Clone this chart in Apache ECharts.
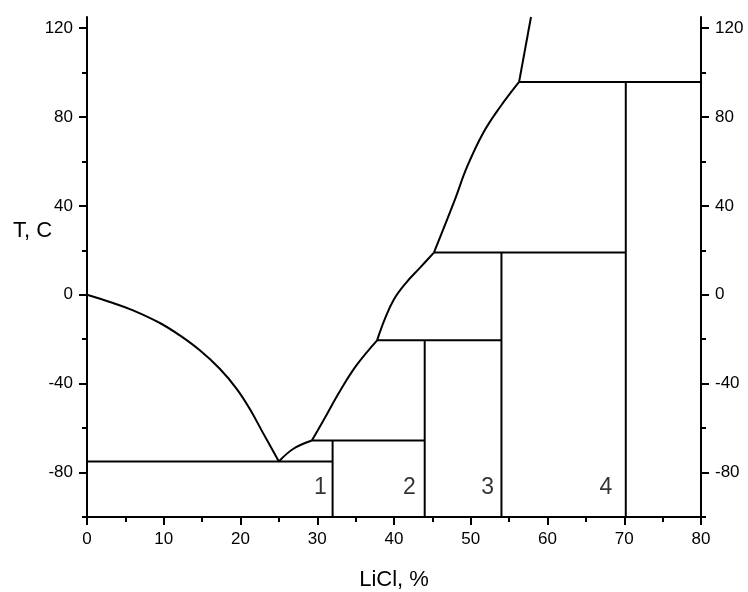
<!DOCTYPE html>
<html>
<head>
<meta charset="utf-8">
<script src="https://cdn.jsdelivr.net/npm/echarts@6/dist/echarts.min.js"></script>
<style>html,body{margin:0;padding:0;background:#fff;}#c{width:748px;height:592px;}</style>
</head>
<body>
<div id="c"></div>
<script>
// ---- data ----
var iceCurve = [[0,0],[3.4,-3.7],[6.0,-7.0],[9.5,-12.7],[12.1,-18.3],[14.7,-25],[17.3,-33.3],[19.5,-42.3],[21.2,-51.3],[23.0,-62.6],[25,-75]];
var pentaCurve = [[25,-75],[26.9,-69.3],[29.3,-65.6]];
var triCurve = [[29.3,-65.6],[30.8,-56.6],[33.0,-43.1],[35.1,-31.8],[37.8,-20.5]];
var diCurve = [[37.8,-20.5],[38.8,-11.0],[40.0,-2.0],[41.6,5.5],[43.4,12.2],[45.2,19]];
var monoCurve = [[45.2,19],[47.9,42.5],[49.5,57.4],[51.6,72.7],[53.8,84.4],[56.3,95.8]];
var anhydCurve = [[56.3,95.8],[57.85,125]];
// horizontal lines: [xStart, xEnd, T]
var horizontals = [[0,32,-75],[29.3,44,-65.6],[37.8,54,-20.5],[45.2,70.2,19],[56.3,80,95.8]];
// vertical lines: [x, TStart, TEnd]
var verticals = [[32,-100,-65.6],[44,-100,-20.5],[54,-100,19],[70.2,-100,95.8]];
// region labels
var regionNames = ['1','2','3','4'];
var regionX = [30.4,42,52.2,67.6];
var regionY = [-87,-87,-87,-87];
var yMajorTicks = [-80,-40,0,40,80,120];
var yMinorTicks = [-100,-60,-20,20,60,100];
var xMin = 0, xMax = 80, yMin = -100, yMax = 125;

var FONT = "'Liberation Sans', Arial, sans-serif";
var black = '#000';

function lineSeries(data, smooth) {
  return {type:'line', data:data, symbol:'none', smooth: smooth ? 0.4 : false,
    lineStyle:{color:black,width:2}, xAxisIndex:0, yAxisIndex:0, silent:true, z:3};
}
var series = [];
series.push(lineSeries(iceCurve, true));
series.push(lineSeries(pentaCurve, true));
series.push(lineSeries(triCurve, true));
series.push(lineSeries(diCurve, true));
series.push(lineSeries(monoCurve, true));
series.push(lineSeries(anhydCurve, false));
horizontals.forEach(function(h){ series.push(lineSeries([[h[0],h[2]],[h[1],h[2]]], false)); });
verticals.forEach(function(v){ series.push(lineSeries([[v[0],v[1]],[v[0],v[2]]], false)); });
series.push({type:'scatter', symbolSize:0, silent:true,
  data: regionNames.map(function(n,i){ return {name:n, value:[regionX[i], regionY[i]]}; }),
  label:{show:true, position:'inside', formatter:'{b}', color:black, fontSize:23, fontFamily:FONT}});

function yAxisDef(pos, ticks, major) {
  return {type:'value', position:pos, min:yMin, max:yMax, offset:0,
    axisLine:{show:major, onZero:false, lineStyle:{color:black,width:2}},
    axisTick:{show:true, customValues:ticks, length: major?8:5, inside:false, lineStyle:{color:black,width:2}},
    axisLabel:{show:major, customValues:ticks, color:black, fontSize:17, fontFamily:FONT, margin:14},
    splitLine:{show:false}};
}

var chart = echarts.init(document.getElementById('c'), null, {renderer:'canvas'});
chart.setOption({
  animation:false,
  backgroundColor:'#fff',
  grid:{left:87, right:47, top:17, bottom:75, containLabel:false, outerBoundsMode:'none'},
  xAxis:{type:'value', min:xMin, max:xMax, interval:10,
    axisLine:{onZero:false, lineStyle:{color:black,width:2}},
    axisTick:{length:8, lineStyle:{color:black,width:2}},
    minorTick:{show:true, splitNumber:2, length:5, lineStyle:{color:black,width:2}},
    axisLabel:{color:black, fontSize:17, fontFamily:FONT, margin:14},
    splitLine:{show:false}, minorSplitLine:{show:false},
    name:'LiCl, %', nameLocation:'middle', nameGap:52,
    nameTextStyle:{color:black, fontSize:22, fontFamily:FONT}},
  yAxis:[yAxisDef('left', yMajorTicks, true), yAxisDef('left', yMinorTicks, false),
         yAxisDef('right', yMajorTicks, true), yAxisDef('right', yMinorTicks, false)],
  graphic:[{type:'text', left:13, top:220, style:{text:'T, C', fill:black, font:'22px ' + FONT}}],
  series:series
});
</script>
</body>
</html>
